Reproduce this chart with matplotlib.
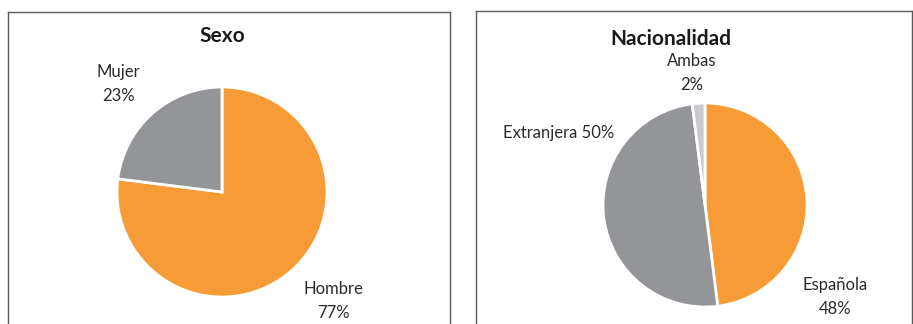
import matplotlib.pyplot as plt

plt.rcParams['font.family'] = ['Lato', 'DejaVu Sans']

# data
sexo_labels = ['Hombre', 'Mujer']
sexo_values = [77, 23]
nac_labels = ['Española', 'Extranjera', 'Ambas']
nac_values = [48, 50, 2]

ORANGE = '#F79B37'
GRAY = '#939598'
LIGHT = '#C9CACC'
TXT = '#2b2b2b'

W, H = 913, 324
fig = plt.figure(figsize=(W / 100, H / 100), dpi=100)


def panel(x0, x1, ytop):
    # axes in pixel units, y measured from the bottom of the figure
    ax = fig.add_axes([x0 / W, 0, (x1 - x0) / W, (H - ytop) / H])
    return ax


def finish(ax, x0, x1, ytop):
    ax.set_xlim(x0, x1)
    ax.set_ylim(0, H - ytop)
    ax.set_aspect('auto')
    ax.set_frame_on(True)
    ax.set_xticks([])
    ax.set_yticks([])
    for side in ['top', 'left', 'right']:
        ax.spines[side].set_color('#5a5a5a')
        ax.spines[side].set_linewidth(1.0)
    ax.spines['bottom'].set_visible(False)


# Sexo
ax1 = panel(8, 450, 12)
ax1.pie(sexo_values, colors=[ORANGE, GRAY], startangle=90, counterclock=False,
        center=(222, H - 192), radius=105,
        wedgeprops=dict(edgecolor='white', linewidth=2))
finish(ax1, 8, 450, 12)
ax1.text(222, H - 36, 'Sexo', ha='center', va='center', fontsize=15, fontweight='bold', color='#1a1a1a')
ax1.text(333, H - 301, f'{sexo_labels[0]}\n{sexo_values[0]}%', ha='center', va='center',
         fontsize=12, color=TXT, linespacing=1.55)
ax1.text(118, H - 84, f'{sexo_labels[1]}\n{sexo_values[1]}%', ha='center', va='center',
         fontsize=12, color=TXT, linespacing=1.55)

# Nacionalidad
ax2 = panel(476, 912, 11)
ax2.pie(nac_values, colors=[ORANGE, GRAY, LIGHT], startangle=90, counterclock=False,
        center=(705, H - 205), radius=102,
        wedgeprops=dict(edgecolor='white', linewidth=2))
finish(ax2, 476, 912, 11)
ax2.text(671, H - 39, 'Nacionalidad', ha='center', va='center', fontsize=15, fontweight='bold', color='#1a1a1a')
ax2.text(835, H - 297, f'{nac_labels[0]}\n{nac_values[0]}%', ha='center', va='center',
         fontsize=12, color=TXT, linespacing=1.55)
ax2.text(559, H - 133, f'{nac_labels[1]} {nac_values[1]}%', ha='center', va='center',
         fontsize=12, color=TXT)
ax2.text(692, H - 73, f'{nac_labels[2]}\n{nac_values[2]}%', ha='center', va='center',
         fontsize=12, color=TXT, linespacing=1.55)

fig.savefig('out.png', dpi=100, facecolor='white')
